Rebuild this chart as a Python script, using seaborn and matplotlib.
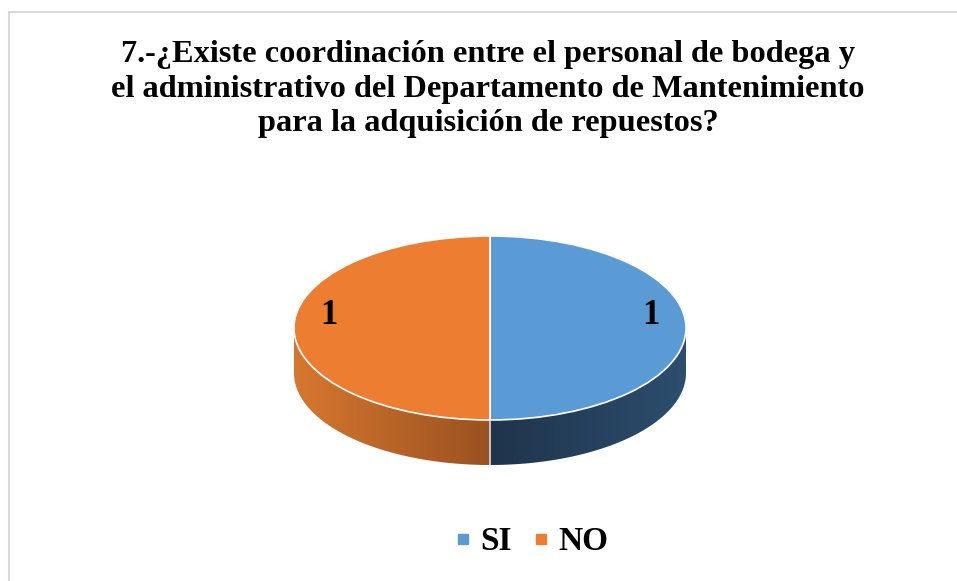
import numpy as np
import matplotlib
matplotlib.use('Agg')
import matplotlib.pyplot as plt
import seaborn as sns
from matplotlib.lines import Line2D
from matplotlib.patches import Polygon, Rectangle

# Data
categories = ['SI', 'NO']
values = [1, 1]
top_colors = ['#5B9BD5', '#ED7D31']
# side gradient colours (near centre -> outer edge)
side_colors = [('#1f344c', '#2d4e6e'), ('#9a5220', '#d7772f')]
title = ('7.-¿Existe coordinación entre el personal de bodega y\n'
         'el administrativo del Departamento de Mantenimiento\n'
         'para la adquisición de repuestos?')

sns.set_theme(style='white')
plt.rcParams['font.family'] = ['Liberation Serif', 'DejaVu Serif']
plt.rcParams['text.color'] = 'black'

W, H = 957, 581
fig = plt.figure(figsize=(W / 100, H / 100), dpi=100)
ax = fig.add_axes([0, 0, 1, 1])

# pie geometry in pixels
cx, cy, rx, ry, depth = 490, 328, 196, 92, 45
d = depth / ry

wedges, _ = ax.pie(values, colors=top_colors, startangle=90, counterclock=False,
                   radius=1, center=(0, 0),
                   wedgeprops=dict(edgecolor='white', linewidth=1.2, zorder=3))
ax.set_aspect('auto')
ax.axis('off')

# 3D side of each wedge (visible lower half only)
for w, (c_in, c_out) in zip(wedges, side_colors):
    t1, t2 = np.deg2rad(w.theta1), np.deg2rad(w.theta2)
    t = np.linspace(t1, t2, 200)
    t = t[np.sin(t) <= 0]
    if len(t) < 2:
        continue
    xs, ys = np.cos(t), np.sin(t)
    pts = np.concatenate([np.c_[xs, ys], np.c_[xs[::-1], ys[::-1] - d]])
    poly = Polygon(pts, closed=True, facecolor='none', edgecolor='none', zorder=2)
    ax.add_patch(poly)
    x0, x1 = xs.min(), xs.max()
    grad = np.linspace(0, 1, 256)
    if abs(x1) < abs(x0):
        grad = grad[::-1]
    cmap = matplotlib.colors.LinearSegmentedColormap.from_list('s', [c_in, c_out])
    im = ax.imshow(grad[None, :], extent=[x0, x1, -1 - d, 0], aspect='auto',
                   cmap=cmap, zorder=2, interpolation='bilinear')
    im.set_clip_path(poly)

# seam on the side
ax.plot([0, 0], [-1, -1 - d], color='#dcdcdc', lw=1.2, zorder=4)
ax.set_xlim(-cx / rx, (W - cx) / rx)
ax.set_ylim(-(H - cy) / ry, cy / ry)

# data labels
for w, v in zip(wedges, values):
    ang = np.deg2rad((w.theta1 + w.theta2) / 2)
    ax.text(0.82 * np.cos(ang), 0.82 * np.sin(ang) + 0.14, str(v),
            ha='center', va='center', fontsize=25, fontweight='bold', zorder=5)

# title
fig.text(488 / W, 1 - 40 / H, title, ha='center', va='top', fontsize=23.3,
         fontweight='bold', linespacing=1.25)

# legend
handles = [Line2D([], [], marker='s', linestyle='', color=c, markersize=7)
           for c in top_colors]
fig.legend(handles, categories, loc='center', bbox_to_anchor=(529 / W, 1 - 542 / H),
           ncol=2, frameon=False, prop=dict(size=24, weight='bold'),
           handletextpad=0.1, columnspacing=0.5, handlelength=0.8)

# chart border (only top/left visible)
fig.add_artist(Rectangle((9 / W, -0.1), 1.2, 1.1 - 12 / H, transform=fig.transFigure,
                         facecolor='none', edgecolor='#d9d9d9', linewidth=1.5))

fig.savefig('out.png', dpi=100)
